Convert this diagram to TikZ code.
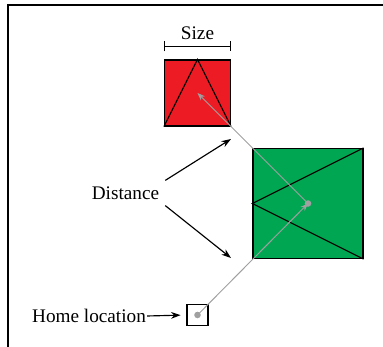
\documentclass[tikz,border=0pt]{standalone}
\usepackage{fontspec}
\setmainfont{Liberation Serif}
\usetikzlibrary{positioning, arrows.meta}
\definecolor{rojo}{RGB}{237, 28, 36}
\definecolor{verde}{RGB}{0, 166, 81}
\definecolor{gris}{RGB}{160, 160, 160}

\begin{document}
\begin{tikzpicture}[
		x=0.01828cm, y=-0.01828cm,                 % 1 unidad = 1 pixel
		sq/.style = {
			rectangle,
			draw=black,
			semithick,
			inner sep=0pt
		},
		lbl/.style = {font=\normalsize, inner sep=3pt},
		blackarr/.style = {-{Stealth[length=5pt, width=3.5pt]}, semithick},
		grayarr/.style = {draw=gris, -{Stealth[length=4pt, width=3pt]}, gris, line width=0.5pt}
		]
		
		% Marco y limites
		\useasboundingbox (0,0) rectangle (383,347);
		\draw[thick] (8,347) -- (8,5) -- (383,5);
		
		% Cuadrado pequeno - arriba
		\node[sq, fill=rojo, minimum size=1.207cm] (small) at (197.5,93) {};
		\draw[semithick] (small.south west) -- (small.north) -- (small.south east);
		
		% Cuadrado grande - derecha
		\node[sq, fill=verde, minimum size=2.01cm] (big) at (308,203.5) {};
		\draw[semithick] (big.north east) -- (big.west) -- (big.south east);
		
		% Casa
		\node[sq, minimum size=0.384cm] (home) at (197.5,315) {};
		
		% Cota de tamano
		\draw[|-|, semithick] ([yshift=0.24cm]small.north west) -- ([yshift=0.24cm]small.north east)
			node[midway, above, lbl] (size) {Size};
		
		% Trayectorias
		\draw[grayarr] (home.center) -- (big.center);
		\draw[grayarr] (big.center) -- (small.center);
		\fill[gris] (home.center) circle (1.7pt);
		\fill[gris] (big.center) circle (1.7pt);
		
		% Etiquetas
		\node[lbl] (dist) at (125.5,193) {Distance};
		\coordinate (d1) at (231,139);
		\coordinate (d2) at (231,258);
		\draw[blackarr] (dist.north east) -- (d1);
		\draw[blackarr] (dist.south east) -- (d2);
		
		\node[lbl, inner sep=0.5pt] (hometxt) at (89,316) {Home location};
		\draw[blackarr, shorten >=3pt] (hometxt.east) -- (home.west);
		
	\end{tikzpicture}
\end{document}
